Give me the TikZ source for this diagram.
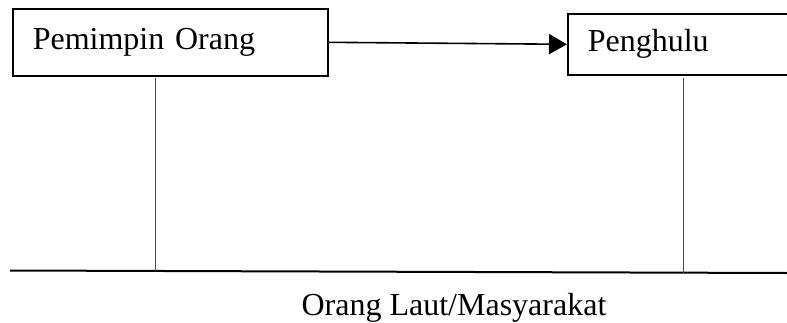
\documentclass[tikz,border=0pt]{standalone}
\usepackage{fontspec}
\setmainfont{Liberation Serif}
\usetikzlibrary{arrows.meta}

\begin{document}
\begin{tikzpicture}[x=0.5pt,y=-0.5pt,>={Triangle[length=9pt,width=10pt]},
  kotak/.style={draw,line width=0.8pt,anchor=north west,inner xsep=10pt,
    align=left,font=\fontsize{16}{19}\selectfont}]
\useasboundingbox (0,0) rectangle (787,322);

% Kotak
\node[kotak,text width=137.5pt,minimum height=33.5pt] (pemimpin) at (12,8) {Pemimpin Orang};
\node[kotak,text width=100pt,minimum height=30.5pt] (penghulu) at (567,13) {Penghulu};

% Panah
\draw[->,line width=0.8pt] (pemimpin.east) -- (penghulu.west);

% Garis bawah
\coordinate (tanahL) at (10,270.5);
\coordinate (tanahR) at (787,273);
\draw[line width=1pt] (tanahL) -- (tanahR);

% Garis tegak
\coordinate (tegak1) at (155,78);
\coordinate (tegak2) at (683,78);
\draw[line width=0.5pt,black!70] (tegak1) -- (155,270.9);
\draw[line width=0.5pt,black!70] (tegak2) -- (683,272.7);

% Label
\node[anchor=base,font=\fontsize{16}{19}\selectfont] (rakyat) at (454,315) {Orang Laut/Masyarakat};

\end{tikzpicture}
\end{document}
